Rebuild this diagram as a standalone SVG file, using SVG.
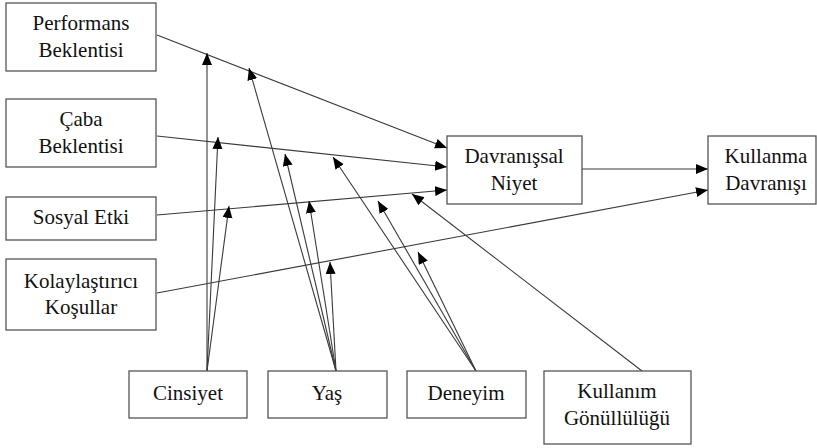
<svg xmlns="http://www.w3.org/2000/svg" width="817" height="448" viewBox="0 0 817 448">
<style>
.box{fill:#fff;stroke:#555;stroke-width:1.3}
.t{font-family:"Liberation Serif","Tinos","Times New Roman","DejaVu Serif","Noto Serif",serif;font-size:21px;fill:#111;text-anchor:middle}
.c{fill:none;stroke:#3a3a3a;stroke-width:1.1;marker-end:url(#ah)}
</style>
<defs>
<marker id="ah" markerUnits="userSpaceOnUse" markerWidth="13" markerHeight="11" refX="12" refY="5" orient="auto">
<path d="M0,0 L12,5 L0,10 Z" fill="#000"/>
</marker>
</defs>
<rect width="817" height="448" fill="#fff"/>
<g id="connectors">
<path class="c" d="M157,35 L447,148"/>
<path class="c" d="M157,136 L447,167"/>
<path class="c" d="M157,215 L447,190"/>
<path class="c" d="M157,293 L708,190"/>
<path class="c" d="M582,169 L708,169"/>
<path class="c" d="M207,371 L207,53"/>
<path class="c" d="M207,371 L218,137"/>
<path class="c" d="M207,371 L229,206"/>
<path class="c" d="M336,371 L249,68"/>
<path class="c" d="M336,371 L285,154"/>
<path class="c" d="M336,371 L309,201"/>
<path class="c" d="M336,371 L330,262"/>
<path class="c" d="M476,371 L333,157"/>
<path class="c" d="M476,371 L378,201"/>
<path class="c" d="M476,371 L418,252"/>
<path class="c" d="M642,371 L412,194"/>
</g>
<g id="performans">
<rect class="box" x="6" y="3" width="150" height="68"/>
<text class="t" x="81" y="30">Performans</text>
<text class="t" x="81" y="57">Beklentisi</text>
</g>
<g id="caba">
<rect class="box" x="6" y="99" width="150" height="68"/>
<text class="t" x="81" y="126">Çaba</text>
<text class="t" x="81" y="153">Beklentisi</text>
</g>
<g id="sosyal">
<rect class="box" x="6" y="197" width="150" height="43"/>
<text class="t" x="81" y="224">Sosyal Etki</text>
</g>
<g id="kolay">
<rect class="box" x="6" y="259" width="150" height="71"/>
<text class="t" x="81" y="288">Kolaylaştırıcı</text>
<text class="t" x="81" y="314">Koşullar</text>
</g>
<g id="niyet">
<rect class="box" x="447" y="136" width="135" height="68"/>
<text class="t" x="514" y="163">Davranışsal</text>
<text class="t" x="514" y="190">Niyet</text>
</g>
<g id="kullanma">
<rect class="box" x="708" y="136" width="108" height="68"/>
<text class="t" x="766" y="163">Kullanma</text>
<text class="t" x="766" y="190">Davranışı</text>
</g>
<g id="cinsiyet">
<rect class="box" x="129" y="371" width="118" height="47"/>
<text class="t" x="188" y="400">Cinsiyet</text>
</g>
<g id="yas">
<rect class="box" x="268" y="371" width="119" height="47"/>
<text class="t" x="327" y="400">Yaş</text>
</g>
<g id="deneyim">
<rect class="box" x="407" y="371" width="119" height="47"/>
<text class="t" x="466" y="400">Deneyim</text>
</g>
<g id="gonulluluk">
<rect class="box" x="544" y="371" width="147" height="73"/>
<text class="t" x="617" y="398">Kullanım</text>
<text class="t" x="617" y="425">Gönüllülüğü</text>
</g>
</svg>
